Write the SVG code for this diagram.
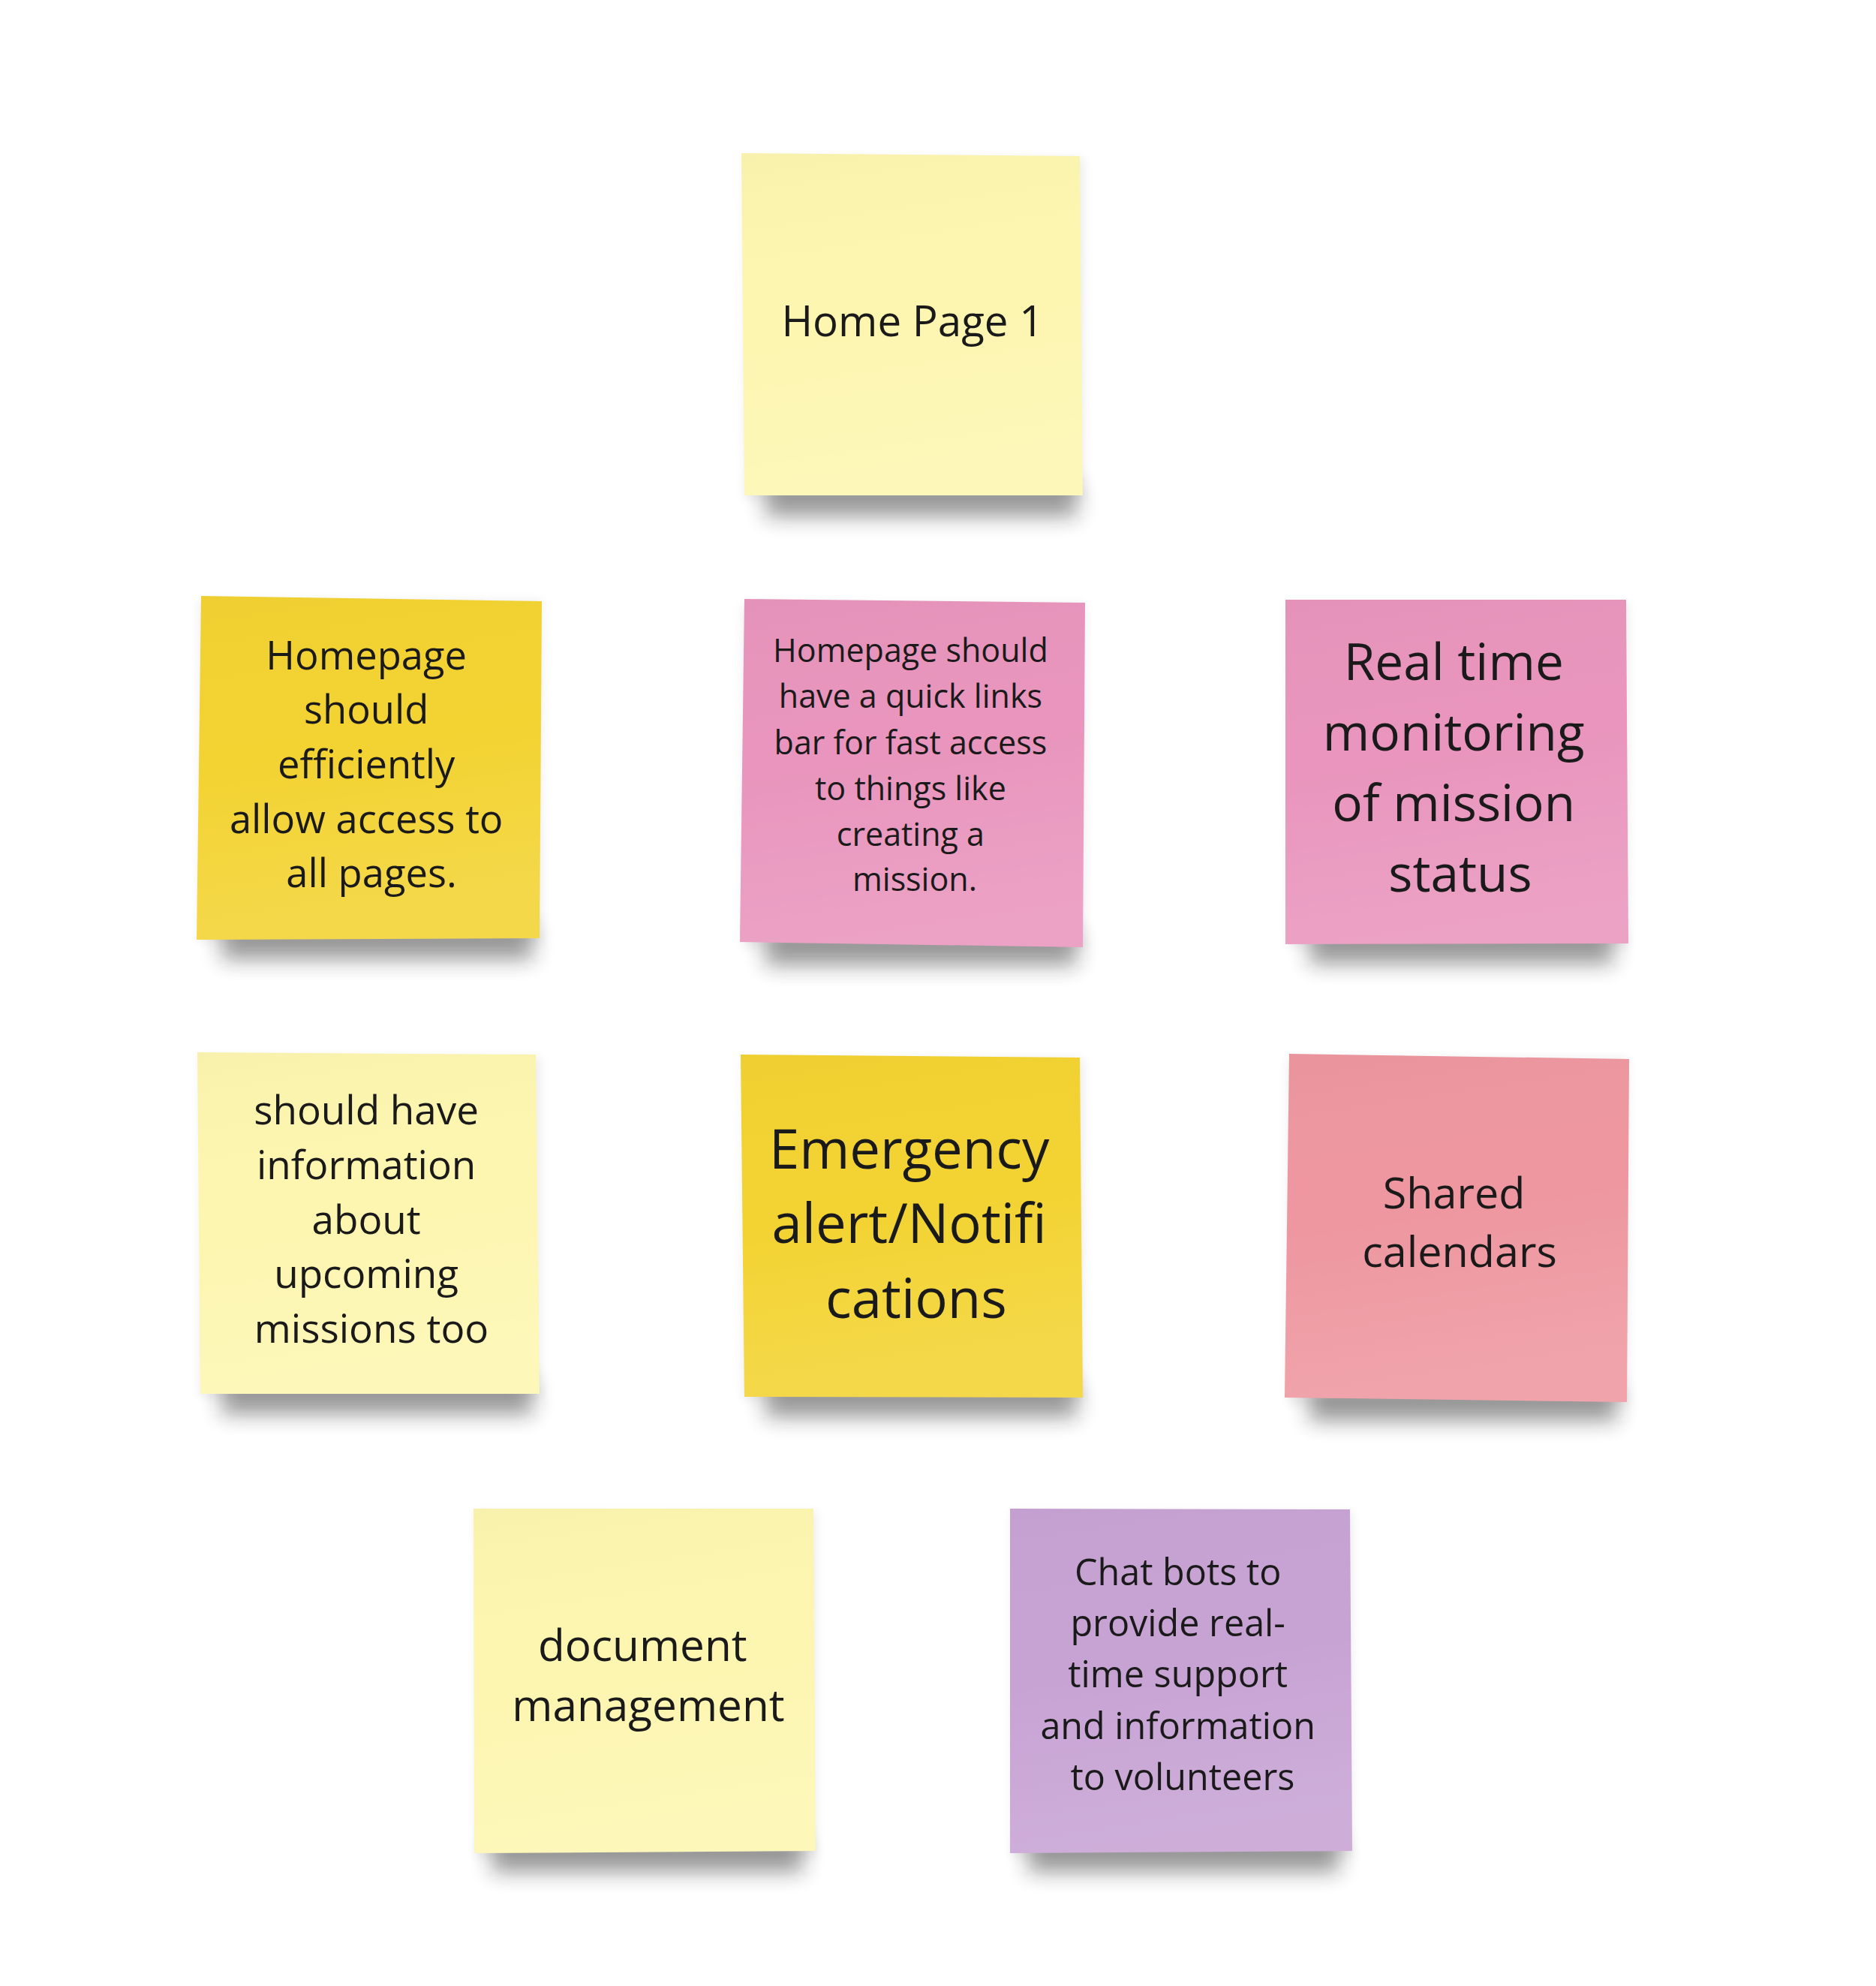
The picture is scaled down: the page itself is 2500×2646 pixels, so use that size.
<svg xmlns="http://www.w3.org/2000/svg" width="2500" height="2646" viewBox="0 0 2500 2646">
<defs>
<filter id="sh" x="-20%" y="-100%" width="140%" height="300%"><feGaussianBlur stdDeviation="14"/></filter>
<filter id="soft" x="-10%" y="-10%" width="120%" height="120%"><feGaussianBlur stdDeviation="7"/></filter>
<linearGradient id="gloss" x1="0" y1="0" x2="0.15" y2="1">
<stop offset="0" stop-color="#000" stop-opacity="0.02"/>
<stop offset="0.5" stop-color="#fff" stop-opacity="0"/>
<stop offset="1" stop-color="#fff" stop-opacity="0.12"/>
</linearGradient>
<style>
.t{font-family:"Open Sans","Noto Sans","DejaVu Sans",sans-serif;fill:#1b1a1a;text-anchor:middle}
.shd{fill:#1e1e1e;opacity:0.45;filter:url(#sh)}
.halo{fill:#000;opacity:0.07;filter:url(#soft)}
.ly{fill:#fdf6b0}
.dy{fill:#f3d332}
.pk{fill:#e995bd}
.rd{fill:#ee97a0}
.vi{fill:#c7a3d4}
.gl{fill:url(#gloss)}
</style>
</defs>
<rect width="2500" height="2646" fill="#ffffff"/>
<g id="connectors"/>

<g id="note-home-page">
<rect class="halo" x="992" y="210" width="452" height="455"/>
<rect class="shd" x="1020" y="642" width="415" height="46"/>
<polygon class="ly" points="988,204 1439,208 1443,660 992,660"/>
<polygon class="gl" points="988,204 1439,208 1443,660 992,660"/>
<text class="t" font-size="56.5" x="1216" y="448">Home Page 1</text>
</g>

<g id="note-efficient-access">
<rect class="halo" x="266" y="800" width="456" height="455"/>
<rect class="shd" x="295" y="1232" width="415" height="46"/>
<polygon class="dy" points="268,794 722,801 719,1250 262,1252"/>
<polygon class="gl" points="268,794 722,801 719,1250 262,1252"/>
<text class="t" font-size="52.5" x="495">
<tspan x="495" y="892">Homepage</tspan>
<tspan x="495" y="964">should</tspan>
<tspan x="495" y="1037">efficiently</tspan>
<tspan x="495" y="1110">allow access to</tspan>
<tspan x="495" y="1182">all pages.</tspan>
</text>
</g>

<g id="note-quick-links">
<rect class="halo" x="990" y="804" width="456" height="459"/>
<rect class="shd" x="1020" y="1240" width="415" height="46"/>
<polygon class="pk" points="992,798 1446,803 1443,1262 986,1255"/>
<polygon class="gl" points="992,798 1446,803 1443,1262 986,1255"/>
<text class="t" font-size="43" x="1219">
<tspan x="1219" y="882">Homepage should</tspan>
<tspan x="1219" y="943">have a quick links</tspan>
<tspan x="1219" y="1005">bar for fast access</tspan>
<tspan x="1219" y="1066">to things like</tspan>
<tspan x="1219" y="1127">creating a</tspan>
<tspan x="1219" y="1187">mission.</tspan>
</text>
</g>

<g id="note-real-time">
<rect class="halo" x="1716" y="804" width="454" height="457"/>
<rect class="shd" x="1745" y="1238" width="405" height="46"/>
<polygon class="pk" points="1713,799 2167,799 2170,1257 1713,1258"/>
<polygon class="gl" points="1713,799 2167,799 2170,1257 1713,1258"/>
<text class="t" font-size="67.5" x="1946">
<tspan x="1946" y="906">Real time</tspan>
<tspan x="1946" y="1000">monitoring</tspan>
<tspan x="1946" y="1094">of mission</tspan>
<tspan x="1946" y="1188">status</tspan>
</text>
</g>

<g id="note-upcoming">
<rect class="halo" x="266" y="1408" width="454" height="453"/>
<rect class="shd" x="295" y="1838" width="415" height="46"/>
<polygon class="ly" points="263,1402 714,1405 719,1857 267,1857"/>
<polygon class="gl" points="263,1402 714,1405 719,1857 267,1857"/>
<text class="t" font-size="53" x="495">
<tspan x="495" y="1498">should have</tspan>
<tspan x="495" y="1571">information</tspan>
<tspan x="495" y="1644">about</tspan>
<tspan x="495" y="1716">upcoming</tspan>
<tspan x="495" y="1789">missions too</tspan>
</text>
</g>

<g id="note-emergency">
<rect class="halo" x="990" y="1410" width="454" height="455"/>
<rect class="shd" x="1020" y="1842" width="415" height="46"/>
<polygon class="dy" points="987,1405 1439,1409 1443,1862 992,1861"/>
<polygon class="gl" points="987,1405 1439,1409 1443,1862 992,1861"/>
<text class="t" font-size="72.5" x="1221">
<tspan x="1221" y="1557">Emergency</tspan>
<tspan x="1221" y="1656">alert/Notifi</tspan>
<tspan x="1221" y="1756">cations</tspan>
</text>
</g>

<g id="note-shared-calendars">
<rect class="halo" x="1716" y="1410" width="454" height="461"/>
<rect class="shd" x="1745" y="1847" width="410" height="46"/>
<polygon class="rd" points="1718,1404 2171,1411 2168,1868 1712,1862"/>
<polygon class="gl" points="1718,1404 2171,1411 2168,1868 1712,1862"/>
<text class="t" font-size="57.5" x="1945">
<tspan x="1945" y="1610">Shared</tspan>
<tspan x="1945" y="1688">calendars</tspan>
</text>
</g>

<g id="note-document-management">
<rect class="halo" x="634" y="2014" width="454" height="459"/>
<rect class="shd" x="655" y="2448" width="415" height="46"/>
<polygon class="ly" points="631,2010 1084,2010 1087,2466 632,2469"/>
<polygon class="gl" points="631,2010 1084,2010 1087,2466 632,2469"/>
<text class="t" font-size="58.5" x="864">
<tspan x="864" y="2213">document</tspan>
<tspan x="864" y="2293">management</tspan>
</text>
</g>

<g id="note-chat-bots">
<rect class="halo" x="1348" y="2014" width="454" height="459"/>
<rect class="shd" x="1370" y="2448" width="415" height="46"/>
<polygon class="vi" points="1346,2010 1799,2011 1802,2466 1346,2469"/>
<polygon class="gl" points="1346,2010 1799,2011 1802,2466 1346,2469"/>
<text class="t" font-size="48.5" x="1576">
<tspan x="1576" y="2112">Chat bots to</tspan>
<tspan x="1576" y="2180">provide real-</tspan>
<tspan x="1576" y="2248">time support</tspan>
<tspan x="1576" y="2317">and information</tspan>
<tspan x="1576" y="2385">to volunteers</tspan>
</text>
</g>
</svg>
